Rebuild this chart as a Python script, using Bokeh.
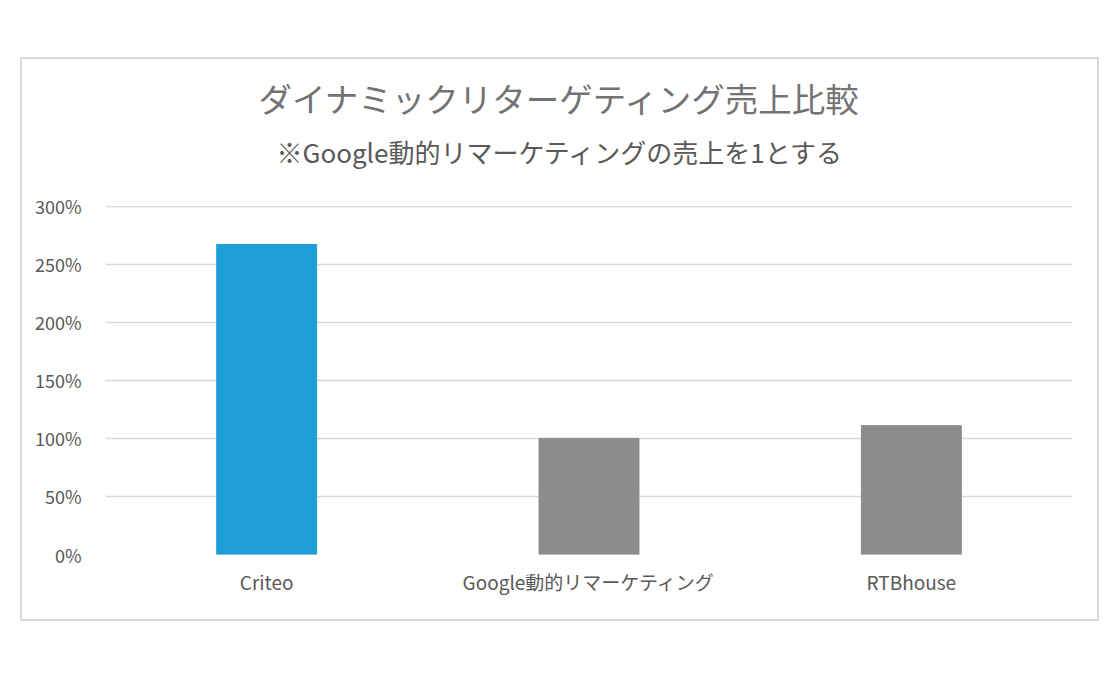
from bokeh.plotting import figure
from bokeh.models import (FactorRange, Range1d, NumeralTickFormatter, FixedTicker,
                          Title, Spacer, ColumnDataSource)
from bokeh.layouts import column, row
from bokeh.embed import file_html
from bokeh.resources import INLINE

# Data
categories = ["Criteo", "Google動的リマーケティング", "RTBhouse"]
sales_ratio = [2.67, 1.00, 1.11]
bar_colors = ["#1e9fd9", "#8c8c8c", "#8c8c8c"]
y_ticks = [0, 0.5, 1.0, 1.5, 2.0, 2.5, 3.0]
title_text = "ダイナミックリターゲティング売上比較"
subtitle_text = "※Google動的リマーケティングの売上を1とする"

FONT = "Noto Sans CJK JP"
TXT = "#595959"

W, H = 1079, 564
src = ColumnDataSource(dict(cat=categories, val=sales_ratio, color=bar_colors))

p = figure(x_range=FactorRange(*categories, range_padding=0),
           y_range=Range1d(0, 3.006),
           width=W, height=H, output_backend="svg", toolbar_location=None,
           min_border_left=83, min_border_right=29, min_border_top=146,
           min_border_bottom=69)
p.vbar(x="cat", top="val", width=0.31, color="color", source=src)

p.outline_line_color = None
p.background_fill_color = "white"
p.border_fill_color = "white"
p.styles = {"border": "2px solid #d9d9d9", "box-sizing": "border-box"}

p.xgrid.grid_line_color = None
p.ygrid.grid_line_color = "#d9d9d9"
p.ygrid.grid_line_width = 1.5

p.yaxis.ticker = FixedTicker(ticks=y_ticks)
p.yaxis.formatter = NumeralTickFormatter(format="0%")
for ax in (p.xaxis[0], p.yaxis[0]):
    ax.axis_line_color = None
    ax.major_tick_line_color = None
    ax.minor_tick_line_color = None
    ax.major_label_text_color = TXT
    ax.major_label_text_font = FONT
p.yaxis.major_label_text_font_size = "18px"
p.yaxis.major_label_standoff = 18
p.xaxis.major_label_text_font_size = "19px"
p.xaxis.major_label_standoff = 7

# spacer between frame and subtitle
p.add_layout(Title(text=" ", standoff=4, text_font=FONT, text_font_size="15px"), "above")
p.add_layout(Title(text=subtitle_text, align="left", offset=171, standoff=17,
                   text_font=FONT, text_font_size="26px", text_font_style="normal",
                   text_color=TXT), "above")
p.add_layout(Title(text=title_text, align="left", offset=153, standoff=2,
                   text_font=FONT, text_font_size="33.5px", text_font_style="normal",
                   text_color="#737373"), "above")

layout = column(Spacer(height=57), row(Spacer(width=20), p))
open("out.html", "w").write(file_html(layout, INLINE))
